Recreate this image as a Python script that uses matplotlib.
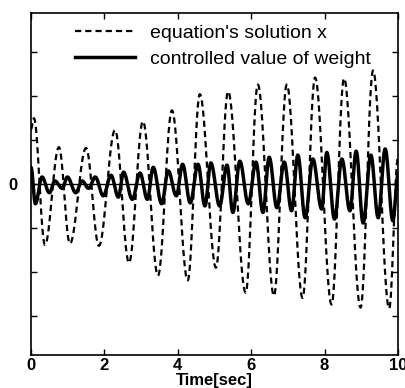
import numpy as np
import matplotlib
matplotlib.use("Agg")
import matplotlib.pyplot as plt

# ---- data (turning points of each curve) ----
x_times = [0.0, 0.08, 0.38, 0.76, 1.06, 1.50, 1.85, 2.29, 2.67, 3.05, 3.46, 3.84,
           4.27, 4.60, 5.04, 5.37, 5.85, 6.18, 6.62, 6.97, 7.40, 7.74, 8.19, 8.53,
           8.98, 9.32, 9.76, 10.0]
x_values = [1.25, 1.50, -1.39, 0.84, -1.36, 0.82, -1.41, 1.23, -1.80, 1.43, -2.09, 1.68,
            -2.20, 2.05, -1.91, 2.11, -2.48, 2.27, -2.55, 2.27, -2.60, 2.43, -2.75, 2.41,
            -2.82, 2.59, -2.84, 0.60]

w_times = [0.0, 0.12, 0.30, 0.50, 0.65, 0.85, 0.99, 1.22, 1.39, 1.57, 1.75, 1.97,
           2.18, 2.38, 2.52, 2.76, 2.97, 3.17, 3.33, 3.56, 3.74, 3.96, 4.13, 4.34,
           4.55, 4.74, 4.90, 5.14, 5.34, 5.50, 5.69, 5.92, 6.13, 6.32, 6.49, 6.70,
           6.90, 7.10, 7.27, 7.47, 7.68, 7.92, 8.06, 8.27, 8.47, 8.69, 8.86, 9.05,
           9.26, 9.46, 9.65, 9.86, 10.0]
w_values = [0.38, -0.45, 0.16, -0.20, 0.07, -0.10, 0.16, -0.20, 0.07, -0.10, 0.16, -0.27,
            0.20, -0.30, 0.27, -0.35, 0.25, -0.35, 0.38, -0.45, 0.30, -0.27, 0.45, -0.43,
            0.45, -0.50, 0.48, -0.50, 0.43, -0.65, 0.52, -0.45, 0.50, -0.65, 0.61, -0.54,
            0.50, -0.61, 0.66, -0.77, 0.57, -0.57, 0.72, -0.80, 0.57, -0.61, 0.75, -0.89,
            0.66, -0.77, 0.80, -0.84, 0.20]

x_tick_labels = ["0", "2", "4", "6", "8", "10"]
legend_labels = ["equation's solution x", "controlled value of weight"]
x_label = "Time[sec]"


def smooth_through(times, values, n=30):
    """Half-cosine segments between successive turning points."""
    ts, vs = [], []
    for i in range(len(times) - 1):
        s = np.linspace(0, 1, n, endpoint=False)
        t0, t1 = times[i], times[i + 1]
        v0, v1 = values[i], values[i + 1]
        ts.append(t0 + (t1 - t0) * s)
        vs.append(v0 + (v1 - v0) * (1 - np.cos(np.pi * s)) / 2)
    ts.append([times[-1]])
    vs.append([values[-1]])
    return np.concatenate(ts), np.concatenate(vs)


plt.rcParams['font.family'] = ['Liberation Sans', 'DejaVu Sans']

fig = plt.figure(figsize=(4.06, 3.88), dpi=100)
ax = fig.add_axes([31 / 406, 33 / 388, (398 - 31) / 406, (355 - 13) / 388])

tx, vx = smooth_through(x_times, x_values)
tw, vw = smooth_through(w_times, w_values)

ax.axhline(0, color="black", lw=1.0, zorder=1)
l1, = ax.plot(tx, vx, color="black", lw=1.6, linestyle=(0, (2.8, 1.8)), zorder=2)
l2, = ax.plot(tw, vw, color="black", lw=2.5, linestyle="-", zorder=3)

ax.set_xlim(0, 10)
ax.set_ylim(-3.9, 3.9)
ax.set_xticks([0, 2, 4, 6, 8, 10])
ax.set_xticklabels(x_tick_labels, fontsize=12, fontweight="bold")
ax.set_yticks([-3, -2, -1, 0, 1, 2, 3])
ax.set_yticklabels(["", "", "", "0", "", "", ""], fontsize=12, fontweight="bold")
ax.tick_params(direction="in", length=4, width=1, top=True, right=True, pad=2)
ax.tick_params(axis="y", pad=10)
ax.set_xlabel(x_label, fontsize=12, fontweight="bold", labelpad=0)
for sp in ax.spines.values():
    sp.set_linewidth(1.2)

fig.legend([l1, l2], legend_labels, loc="upper left",
           bbox_to_anchor=(75 / 406, 1 - 24 / 388), frameon=False,
           fontsize=14, handlelength=3.1, handletextpad=0.75,
           labelspacing=0.45, borderpad=0, borderaxespad=0)

fig.savefig("out.png", dpi=100)
